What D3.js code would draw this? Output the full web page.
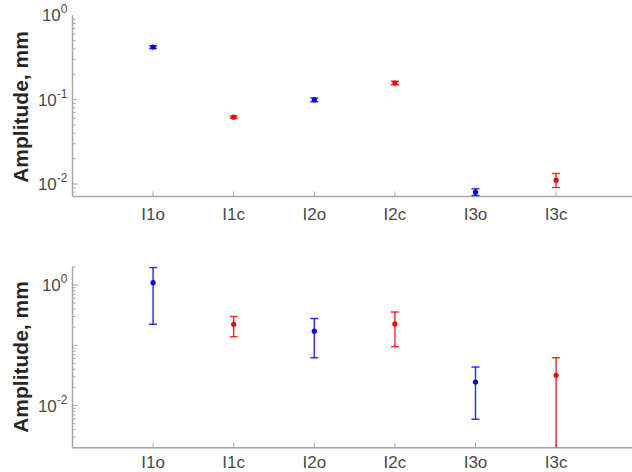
<!DOCTYPE html>
<html>
<head>
<meta charset="utf-8">
<script src="https://cdn.jsdelivr.net/npm/d3@7"></script>
<style>
  body { margin: 0; background: #fff; }
  svg { display: block; font-family: "Liberation Sans", Arial, sans-serif; }
</style>
</head>
<body>
<div class="vis"></div>
<script>
// categories along x
const categories = ["I1o", "I1c", "I2o", "I2c", "I3o", "I3c"];
// which group each category belongs to (o = open, c = closed)
const groups = ["o", "c", "o", "c", "o", "c"];

// top panel: mean and error limits
const topMean = [0.42, 0.062, 0.0995, 0.157, 0.0080, 0.0111];
const topLow  = [0.405, 0.0600, 0.0945, 0.150, 0.0073, 0.0091];
const topHigh = [0.436, 0.0640, 0.1045, 0.165, 0.0088, 0.0133];

// bottom panel: mean and error limits
const botMean = [1.09, 0.223, 0.171, 0.226, 0.0246, 0.0318];
const botLow  = [0.223, 0.139, 0.062, 0.094, 0.0059, 0.0005];
const botHigh = [1.95, 0.300, 0.277, 0.357, 0.0437, 0.062];

const topTicks = [1, 0.1, 0.01];
const botTicks = [1, 0.01];

const W = 632, H = 472;
const colorOf = g => g === "o" ? "#0000ff" : "#ff0000";
const axisColor = "#a6a6a6";
const textColor = "#4a4a4a";

const svg = d3.select('.vis').append('svg')
    .attr('width', W)
    .attr('height', H);

const x = d3.scaleLinear().domain([0, 7]).range([72.5, 636.7]);

function panel(opts) {
    const g = svg.append("g");
    const y = d3.scaleLog().domain(opts.domain).range([opts.bottom, opts.top]);
    const id = "clip" + opts.name;

    g.append("clipPath").attr("id", id)
      .append("rect")
        .attr("x", x.range()[0]).attr("y", opts.top)
        .attr("width", W).attr("height", opts.bottom - opts.top);

    // minor ticks (inward)
    const lo = Math.floor(Math.log10(opts.domain[0])), hi = Math.ceil(Math.log10(opts.domain[1]));
    const minor = [];
    for (let e = lo; e < hi; e++) {
        for (let k = 1; k < 10; k++) {
            const v = k * Math.pow(10, e);
            if (v >= opts.domain[0] && v <= opts.domain[1]) minor.push(v);
        }
    }
    g.selectAll(".minor").data(minor).enter().append("line")
        .attr("x1", x.range()[0]).attr("x2", d => x.range()[0] + (Math.abs(Math.log10(d) - Math.round(Math.log10(d))) < 1e-9 ? 5 : 3))
        .attr("y1", d => y(d)).attr("y2", d => y(d))
        .attr("stroke", axisColor).attr("stroke-width", 1);

    // axes lines
    g.append("line")
        .attr("x1", x.range()[0]).attr("x2", x.range()[0])
        .attr("y1", opts.top).attr("y2", opts.bottom)
        .attr("stroke", axisColor).attr("stroke-width", 1.5);
    g.append("line")
        .attr("x1", x.range()[0]).attr("x2", W)
        .attr("y1", opts.bottom).attr("y2", opts.bottom)
        .attr("stroke", axisColor).attr("stroke-width", 1.5);

    // x ticks
    g.selectAll(".xt").data(categories).enter().append("line")
        .attr("x1", (d, i) => x(i + 1)).attr("x2", (d, i) => x(i + 1))
        .attr("y1", opts.bottom).attr("y2", opts.bottom - 5)
        .attr("stroke", axisColor).attr("stroke-width", 1);
    g.selectAll(".xl").data(categories).enter().append("text")
        .attr("x", (d, i) => x(i + 1)).attr("y", opts.bottom + opts.xlOff)
        .attr("text-anchor", "middle")
        .style("font-size", "17px").attr("fill", textColor)
        .text(d => d);

    // y tick labels 10^n
    const yl = g.selectAll(".yl").data(opts.ticks).enter().append("text")
        .attr("x", x.range()[0] - 5).attr("y", d => y(d) + 6)
        .attr("text-anchor", "end")
        .style("font-size", "17px").attr("fill", textColor);
    yl.append("tspan").text("10");
    yl.append("tspan").attr("dy", -8).style("font-size", "12px")
        .text(d => { const e = Math.round(Math.log10(d)); return e < 0 ? "-" + (-e) : "" + e; });

    // y label
    g.append("text")
        .attr("transform", "translate(28," + opts.labelY + ") rotate(-90)")
        .attr("text-anchor", "middle")
        .style("font-size", "21px").style("font-weight", "bold")
        .attr("fill", "#262626")
        .text("Amplitude, mm");

    // error bars
    const bars = g.append("g").attr("clip-path", "url(#" + id + ")");
    categories.forEach((c, i) => {
        const col = colorOf(groups[i]);
        const cx = x(i + 1);
        const eb = bars.append("g").attr("stroke", col).attr("stroke-width", opts.lw).attr("stroke-opacity", 0.8);
        eb.append("line").attr("x1", cx).attr("x2", cx)
            .attr("y1", y(opts.low[i])).attr("y2", y(opts.high[i]));
        [opts.low[i], opts.high[i]].forEach(v => {
            eb.append("line").attr("x1", cx - 4).attr("x2", cx + 4)
                .attr("y1", y(v)).attr("y2", y(v));
        });
        bars.append("circle").attr("cx", cx).attr("cy", y(opts.mean[i]))
            .attr("r", 2.6).attr("fill", col);
    });
}

panel({ name: "top", domain: [0.0071, 1], top: 15.3, bottom: 196.5, ticks: topTicks,
        mean: topMean, low: topLow, high: topHigh, labelY: 107, lw: 1.5, xlOff: 23 });
panel({ name: "bot", domain: [0.002, 2], top: 266.8, bottom: 447.7, ticks: botTicks,
        mean: botMean, low: botLow, high: botHigh, labelY: 357, lw: 1.5, xlOff: 20 });
</script>
</body>
</html>
